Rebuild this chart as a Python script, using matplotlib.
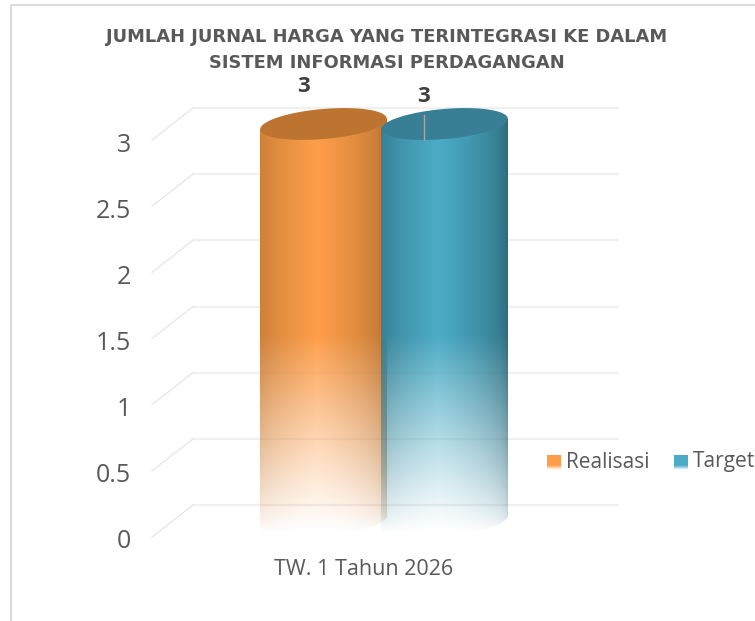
import matplotlib
matplotlib.use("Agg")
import matplotlib.pyplot as plt
import numpy as np
from matplotlib.patches import Polygon
from matplotlib.colors import to_rgb
from matplotlib.transforms import ScaledTranslation

plt.rcParams['font.family'] = ['Open Sans', 'DejaVu Sans']

categories = ["TW. 1 Tahun 2026"]
series_names = ["Realisasi", "Target"]
series_values = [3, 3]
y_ticks = [0, 0.5, 1, 1.5, 2, 2.5, 3]
y_tick_labels = ["0", "0.5", "1", "1.5", "2", "2.5", "3"]
title_lines = ["JUMLAH JURNAL HARGA YANG TERINTEGRASI KE DALAM", "SISTEM INFORMASI PERDAGANGAN"]

W, H = 755, 621
fig = plt.figure(figsize=(W / 100, H / 100), dpi=100)
# axes = front plane of the 3d box, x in pixels
ax = fig.add_axes([152 / W, (H - 537) / H, 424 / W, 397 / H])
ax.set_xlim(152, 576)
ax.set_ylim(0, 3)
ppv = 397 / 3  # pixels per unit
dx_box, dy_box = 41, 32 / ppv

for s in ax.spines.values():
    s.set_visible(False)
ax.set_yticks(y_ticks)
ax.set_yticklabels(y_tick_labels, fontsize=18, color="#595959")
ax.set_xticks([364])
ax.set_xticklabels(categories, fontsize=15.5, color="#595959")
ax.tick_params(axis="both", length=0)
ax.tick_params(axis="y", pad=15)
ax.tick_params(axis="x", pad=16)
for lab in ax.get_yticklabels():
    lab.set_transform(lab.get_transform() + ScaledTranslation(0, -2 / 100, fig.dpi_scale_trans))

# gridlines, back wall and side wall
for v in y_ticks:
    ax.plot([193, 618], [v + dy_box] * 2, color="#F0F0F0", lw=1.6, clip_on=False, zorder=1)
    ax.plot([152, 193], [v, v + dy_box], color="#E6E6E6", lw=0.9, clip_on=False, zorder=1)


def ellipse(cx, cy, tilt=-5.0, rx=63.5, ry=15.0, n=200):
    t = np.linspace(0, 2 * np.pi, n)
    a = np.radians(tilt)
    xp = rx * np.cos(t)
    yp = ry * np.sin(t)
    return np.column_stack([cx + xp * np.cos(a) - yp * np.sin(a),
                            cy + (-(xp * np.sin(a) + yp * np.cos(a))) / ppv])


def cylinder(cx, value, dark, mid, top_col, z, draw_top=True):
    cy_top = value + 16 / ppv
    cy_bot = 16 / ppv
    xs = np.linspace(0, 1, 128)
    prof = np.clip(1 - np.abs(xs - 0.45) / 0.55, 0, 1) ** 0.6
    d, m = np.array(to_rgb(dark)), np.array(to_rgb(mid))
    ys = np.linspace(cy_top + 20 / ppv, cy_bot - 15 / ppv, 400)
    img = np.zeros((400, 128, 4))
    img[:, :, :3] = d + (m - d) * prof[None, :, None]
    # fade out towards the floor, edges fade a bit later
    px = (3 - ys) * ppv + 140
    fade = np.clip((533 - px) / (533 - 335), 0, 1)
    img[:, :, 3] = fade[:, None] ** (1.15 - 0.55 * (1 - prof[None, :]))
    x0, x1 = cx - 63.5, cx + 63.5
    im = ax.imshow(img, extent=[x0, x1, ys[-1], ys[0]], aspect="auto", zorder=z,
                   interpolation="bilinear")
    top = ellipse(cx, cy_top)
    # outline: down the right side, along the lower half of the floor ellipse, up the left
    t = np.linspace(0, np.pi, 100)
    low = np.column_stack([cx + 63.5 * np.cos(t),
                           cy_bot + (-15 * np.sin(t) + 5.5 * np.cos(t)) / ppv])
    body = np.vstack([[x0, cy_top - 5.5 / ppv], [x1, cy_top + 5.5 / ppv], low])
    clip = Polygon(body, closed=True, transform=ax.transData, fc="none", ec="none")
    ax.add_patch(clip)
    im.set_clip_box(fig.bbox)
    im.set_clip_path(clip)
    if draw_top:
        ax.add_patch(Polygon(top, closed=True, fc=top_col, ec="none", zorder=z + 0.5, clip_on=False))
    return top


bar_centers = [323.5, 444.5]
bar_dark = ["#B3702F", "#2C6A7C"]
bar_mid = ["#FF9E4A", "#4BACC6"]
bar_top = ["#BE7431", "#387F95"]

top0 = cylinder(bar_centers[0], series_values[0], bar_dark[0], bar_mid[0], bar_top[0], 2, draw_top=False)
cylinder(bar_centers[1], series_values[1], bar_dark[1], bar_mid[1], bar_top[1], 3)
ax.add_patch(Polygon(top0, closed=True, fc=bar_top[0], ec="none", zorder=4, clip_on=False))
ax.set_xlim(152, 576)
ax.set_ylim(0, 3)

# data labels, second one has a leader line
ax.text(304, series_values[0] + 53 / ppv, str(series_values[0]), ha="center", va="center",
        fontsize=16, fontweight="bold", color="#404040", clip_on=False)
ax.text(424, series_values[1] + 44 / ppv, str(series_values[1]), ha="center", va="center",
        fontsize=16, fontweight="bold", color="#404040", clip_on=False)
ax.plot([424, 424], [series_values[1] + 25 / ppv, series_values[1]], color="#A6A6A6", lw=1,
        zorder=5, clip_on=False)

# title
fig.text(387 / W, 1 - 37 / H, title_lines[0], ha="center", va="center", fontsize=12.9,
         fontweight="bold", color="#595959", family="DejaVu Sans")
fig.text(387 / W, 1 - 63 / H, title_lines[1], ha="center", va="center", fontsize=12.9,
         fontweight="bold", color="#595959", family="DejaVu Sans")

# legend
leg_ax = fig.add_axes([0, 0, 1, 1], frameon=False)
leg_ax.set_xlim(0, W)
leg_ax.set_ylim(H, 0)
leg_ax.axis("off")
leg_x = [547, 674]
for i, name in enumerate(series_names):
    g = np.linspace(0, 1, 20)
    img = np.zeros((20, 1, 4))
    img[:, :, :3] = to_rgb(bar_mid[i])
    img[:, :, 3] = np.clip((1 - g) / 0.3, 0, 1)[:, None]
    leg_ax.imshow(img, extent=[leg_x[i], leg_x[i] + 14, 470, 455], aspect="auto")
    leg_ax.text(leg_x[i] + 19, 462, name, fontsize=15, color="#595959", va="center", ha="left")
leg_ax.set_xlim(0, W)
leg_ax.set_ylim(H, 0)

# chart area border, left and top edges are the visible ones
leg_ax.plot([10.5, 10.5, W], [620, 5, 5], color="#D9D9D9", lw=1.4)

fig.savefig("out.png", dpi=100)
